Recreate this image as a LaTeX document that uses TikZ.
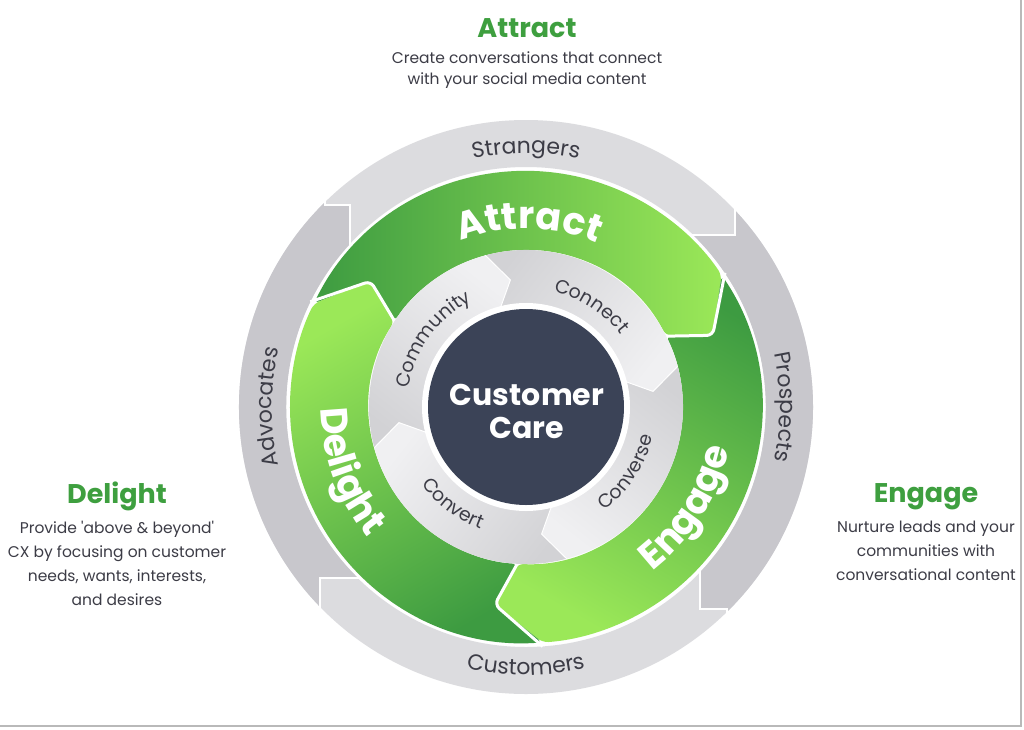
\documentclass[tikz,border=0pt]{standalone}
\usepackage{fontspec}
\setmainfont{Poppins}
\usetikzlibrary{decorations.text}

\definecolor{leafdark}{HTML}{3D9B41}
\definecolor{leaflight}{HTML}{9BE858}
\definecolor{titlegreen}{HTML}{3E9F3F}
\definecolor{ringpale}{HTML}{DCDCDF}
\definecolor{ringdeep}{HTML}{C8C7CC}
\definecolor{hubpale}{HTML}{F0F0F2}
\definecolor{hubdeep}{HTML}{D2D2D5}
\definecolor{slate}{HTML}{3B4357}
\definecolor{inktext}{HTML}{3C3C46}

\tikzset{
	blurb/.style={text=inktext, align=center, inner sep=0pt, font=\fontsize{15.5}{24}\selectfont},
	headline/.style={text=titlegreen, inner sep=0pt, font=\fontsize{27}{27}\selectfont\bfseries},
	cut/.style={white, line width=2.5pt},
	seam/.style={white, line width=3pt, rounded corners=6pt, line join=round},
	hubseam/.style={white, line width=1pt},
}

% text set along an arc: start, end, radius, colour, font, text
\newcommand{\arcword}[6]{%
	\path[decorate, decoration={text along path, text align=center, text color=#4, text={|#5|#6}}]
		(#1:#3) arc[start angle=#1, end angle=#2, radius=#3];}

\begin{document}
\begin{tikzpicture}[x=1pt, y=1pt]
	\useasboundingbox[fill=white] (-526,-322) rectangle (498,407);
	\draw[gray!55, line width=1.5pt] (-526,-319) -- (495,-319) -- (495,407);
	% outer ring
	\fill[ringpale, even odd rule] (0,0) circle[radius=287pt] (0,0) circle[radius=240pt];
	\fill[ringdeep] (209,196) -- (209,172) -- (167,172) arc[start angle=45.84, end angle=-43.48, radius=240pt]
		-- (174,-202) -- (201,-202) -- (201,-204.9) arc[start angle=-45.55, end angle=43.16, radius=287pt] -- cycle;
	\fill[ringdeep] (-206,-199.8) -- (-206,-171) -- (-168,-171) arc[start angle=225.5, end angle=137.2, radius=240pt]
		-- (-176,202) -- (-201,202) -- (-201,204.9) arc[start angle=134.45, end angle=224.12, radius=287pt] -- cycle;
	\draw[cut] (209,199) -- (209,172) -- (164,172);
	\draw[cut] (174,-162) -- (174,-202) -- (201,-202) -- (201,-208);
	\draw[cut] (-206,-203) -- (-206,-171) -- (-165,-171);
	\draw[cut] (-176,160) -- (-176,202) -- (-201,202) -- (-201,208);
	\arcword{130}{50}{254pt}{inktext}{\fontsize{22}{22}\selectfont}{Strangers}
	\arcword{40}{-40}{254pt}{inktext}{\fontsize{22}{22}\selectfont}{Prospects}
	\arcword{-130}{-50}{268pt}{inktext}{\fontsize{22}{22}\selectfont}{Customers}
	\arcword{220}{140}{254pt}{inktext}{\fontsize{22}{22}\selectfont}{Advocates}
	% green band
	\foreach \p/\t/\s in {141/21/-90, 21/-99/-210, -99/-219/30}
		\shade[top color=leaflight, bottom color=leafdark, shading angle=\s, rounded corners=6pt]
			({\p+13}:236pt) arc[start angle=\p+13, end angle=\t+13, radius=236pt]
			-- (\t:200pt) -- ({\t+6}:157pt)
			arc[start angle=\t+6, end angle=\p+6, radius=157pt]
			-- (\p:200pt) -- cycle;
	\foreach \t in {21,-99,141}
		\draw[seam] ({\t+13}:240pt) -- (\t:200pt) -- ({\t+6}:156pt);
	\arcword{150}{28}{178pt}{white}{\fontsize{38}{38}\selectfont\bfseries}{Attract}
	\arcword{-82}{18}{207pt}{white}{\fontsize{38}{38}\selectfont\bfseries}{Engage}
	\arcword{150}{250}{205pt}{white}{\fontsize{38}{38}\selectfont\bfseries}{Delight}
	% hub
	\foreach \a [evaluate=\a as \s using \a-225] in {187,97,7,-83}
		\shade[top color=hubpale, bottom color=hubdeep, shading angle=\s]
			({\a+8}:157pt) arc[start angle=\a+8, end angle=\a-82, radius=157pt]
			-- ({\a-90}:128pt) -- ({\a-82}:101pt)
			arc[start angle=\a-82, end angle=\a+8, radius=101pt]
			-- (\a:128pt) -- cycle;
	\foreach \a in {187,97,7,-83}
		\draw[hubseam] ({\a+8}:157pt) -- (\a:128pt) -- ({\a+8}:101pt);
	\arcword{194}{94}{119pt}{inktext}{\fontsize{19}{19}\selectfont}{Community}
	\arcword{107}{7}{119pt}{inktext}{\fontsize{19}{19}\selectfont}{Connect}
	\arcword{-83}{17}{130pt}{inktext}{\fontsize{19}{19}\selectfont}{Converse}
	\arcword{-177}{-77}{130pt}{inktext}{\fontsize{19}{19}\selectfont}{Convert}
	\fill[white] (0,0) circle[radius=104pt];
	\fill[slate] (0,0) circle[radius=98pt];
	\node[text=white, align=center, font=\fontsize{30}{33}\selectfont\bfseries] (care) at (1,-4) {Customer\\Care};
	% side notes
	\node[headline] (attracthead) at (1,379) {Attract};
	\node[blurb, font=\fontsize{15.5}{21}\selectfont] (attractblurb) at (1,337) {Create conversations that connect\\with your social media content};
	\node[headline] (delighthead) at (-409,-89) {Delight};
	\node[blurb] (delightblurb) at (-409,-156) {Provide \textquotesingle above \& beyond\textquotesingle\\CX by focusing on customer\\needs, wants, interests,\\and desires};
	\node[headline] (engagehead) at (400,-90) {Engage};
	\node[blurb] (engageblurb) at (400,-144) {Nurture leads and your\\communities with\\conversational content};
\end{tikzpicture}
\end{document}
